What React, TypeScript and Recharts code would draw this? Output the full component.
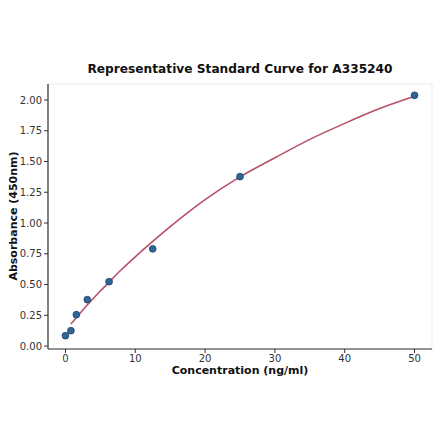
import React from 'react';
import { ComposedChart, Line, Scatter, XAxis, YAxis, CartesianGrid, Label } from 'recharts';

const standardConc = [0, 0.78, 1.56, 3.125, 6.25, 12.5, 25, 50];
const standardAbs = [0.084, 0.125, 0.255, 0.377, 0.523, 0.79, 1.377, 2.038];

const curveConc = [0.78, 2, 3.125, 5, 6.25, 8, 10, 12.5, 15, 20, 25, 30, 35, 40, 45, 50];
const curveAbs = [0.179, 0.26, 0.333, 0.447, 0.52, 0.62, 0.725, 0.85, 0.97, 1.19, 1.375, 1.53, 1.68, 1.81, 1.93, 2.03];

const xTicks = [0, 10, 20, 30, 40, 50];
const yTicks = [0, 0.25, 0.5, 0.75, 1.0, 1.25, 1.5, 1.75, 2.0];

const points = standardConc.map((x, i) => ({ x, y: standardAbs[i] }));
const curve = curveConc.map((x, i) => ({ x, y: curveAbs[i] }));

const FONT = 'DejaVu Sans, sans-serif';
const AX = '#333333';

export default function App() {
  return (
    <div style={{ position: 'absolute', left: 0, top: 0, width: 440, height: 441, background: '#fff' }}>
      <svg width={440} height={441} style={{ position: 'absolute', left: 0, top: 0, pointerEvents: 'none' }}>
        <text x={240} y={73} textAnchor="middle" fontFamily={FONT} fontWeight="bold" fontSize={12.2} fill="#111">
          Representative Standard Curve for A335240
        </text>
      </svg>
      <ComposedChart
        width={440}
        height={441}
        margin={{ top: 84, right: 8, bottom: 62, left: 0 }}
        style={{ position: 'absolute', left: 0, top: 0 }}
      >
        <CartesianGrid stroke="#e6e6e6" strokeWidth={0.8} />
        <XAxis
          xAxisId="b"
          type="number"
          dataKey="x"
          domain={[-2.5, 52.5]}
          ticks={xTicks}
          allowDataOverflow
          height={30}
          tickSize={4}
          tick={{ fontSize: 10, fill: AX, fontFamily: FONT }}
          tickLine={{ stroke: AX }}
          axisLine={{ stroke: AX, strokeWidth: 1.2 }}
        >
          <Label
            content={() => (
              <text x={240} y={374} textAnchor="middle" fontFamily={FONT} fontWeight="bold" fontSize={11} fill="#111">
                Concentration (ng/ml)
              </text>
            )}
          />
        </XAxis>
        <XAxis
          xAxisId="t"
          orientation="top"
          type="number"
          dataKey="x"
          domain={[-2.5, 52.5]}
          height={0}
          tick={false}
          tickLine={false}
          axisLine={{ stroke: AX, strokeWidth: 1.2 }}
        />
        <YAxis
          yAxisId="l"
          type="number"
          domain={[-0.024, 2.13]}
          ticks={yTicks}
          allowDataOverflow
          width={48}
          tickSize={4}
          tickFormatter={(v: number) => v.toFixed(2)}
          tick={{ fontSize: 10, fill: AX, fontFamily: FONT }}
          tickLine={{ stroke: AX }}
          axisLine={{ stroke: AX, strokeWidth: 1.2 }}
        >
          <Label
            content={() => (
              <text
                x={17}
                y={216}
                textAnchor="middle"
                transform="rotate(-90 17 216)"
                fontFamily={FONT}
                fontWeight="bold"
                fontSize={11}
                fill="#111"
              >
                Absorbance (450nm)
              </text>
            )}
          />
        </YAxis>
        <YAxis
          yAxisId="r"
          orientation="right"
          type="number"
          domain={[-0.024, 2.13]}
          width={0}
          tick={false}
          tickLine={false}
          axisLine={{ stroke: AX, strokeWidth: 1.2 }}
        />
        <Line
          xAxisId="b"
          yAxisId="l"
          data={curve}
          dataKey="y"
          type="monotone"
          stroke="#b85068"
          strokeWidth={1.6}
          dot={false}
          activeDot={false}
          isAnimationActive={false}
        />
        <Scatter
          xAxisId="b"
          yAxisId="l"
          data={points}
          dataKey="y"
          fill="#2f6497"
          stroke="#1f4368"
          strokeWidth={0.8}
          isAnimationActive={false}
          shape={(p: any) => <circle cx={p.cx} cy={p.cy} r={3.4} fill="#2f6497" stroke="#1f4368" strokeWidth={0.8} />}
        />
      </ComposedChart>
    </div>
  );
}
